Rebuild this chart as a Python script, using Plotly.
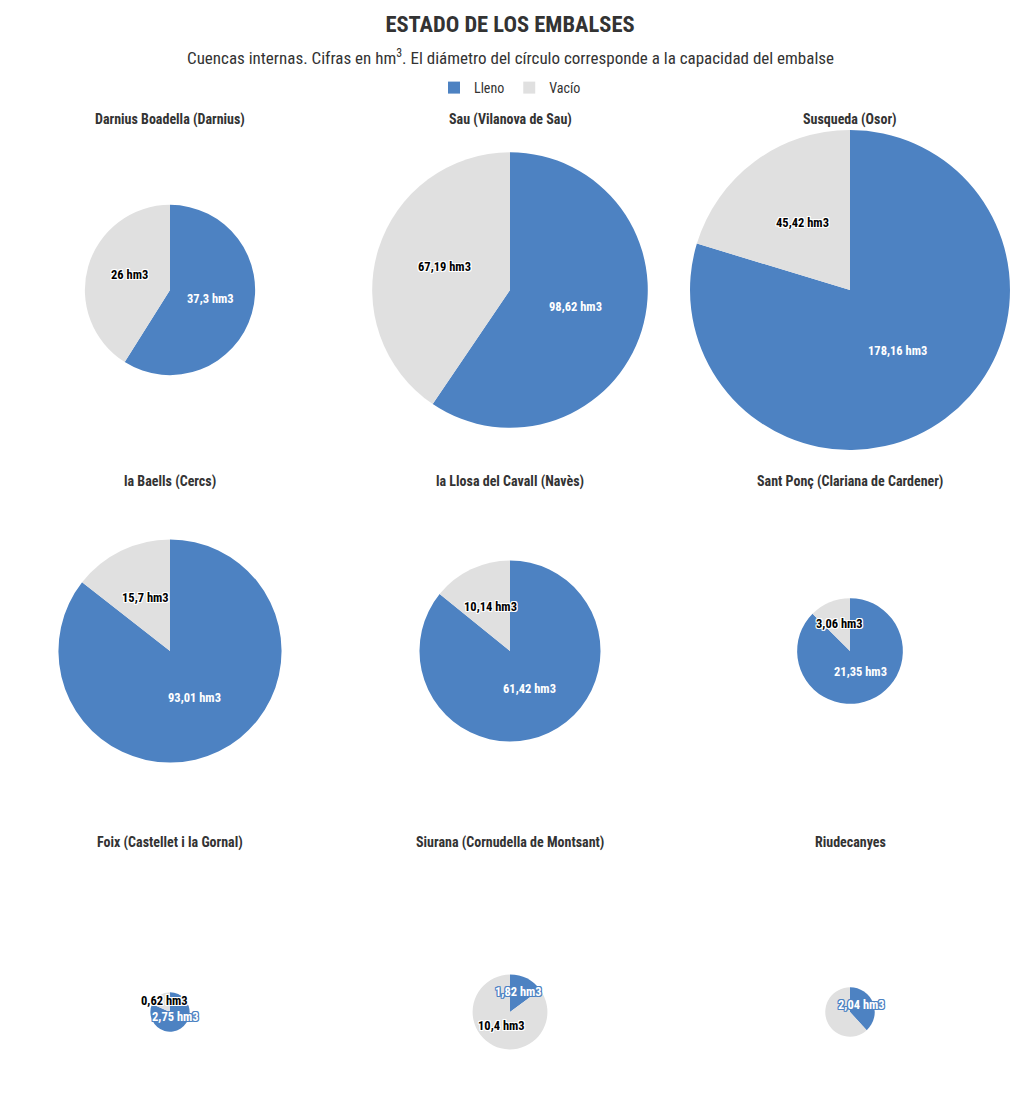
import math
import plotly.graph_objects as go

# ---- data ----
reservoirs = [
    "Darnius Boadella (Darnius)", "Sau (Vilanova de Sau)", "Susqueda (Osor)",
    "la Baells (Cercs)", "la Llosa del Cavall (Navès)", "Sant Ponç (Clariana de Cardener)",
    "Foix (Castellet i la Gornal)", "Siurana (Cornudella de Montsant)", "Riudecanyes",
]
lleno = [37.3, 98.62, 178.16, 93.01, 61.42, 21.35, 2.75, 1.82, 2.04]
vacio = [26, 67.19, 45.42, 15.7, 10.14, 3.06, 0.62, 10.4, 3.3]
series_names = ["Lleno", "Vacío"]
hidden_vacio_labels = ["Riudecanyes"]  # label hidden in the original (overlap)

title = "<b>ESTADO DE LOS EMBALSES</b>"
subtitle = "Cuencas internas. Cifras en hm<sup>3</sup>. El diámetro del círculo corresponde a la capacidad del embalse"

# ---- style ----
W, H = 1020, 1119
BLUE = "#4d82c2"
GRAY = "#e0e0e0"
FONT = "Roboto Condensed, Liberation Sans Narrow, Roboto, sans-serif"
col_centers = [170, 510, 850]
row_centers = [290, 651, 1012]
title_offset = 170          # px above pie centre
px_per_sqrt = 21.4          # diameter scale: area ~ capacity
label_dy = -3.5             # px vertical nudge of data labels


def fmt(v):
    return f"{v:g}".replace(".", ",") + " hm3"


def outline(color):
    return ", ".join(f"{dx}px {dy}px 0 {color}" for dx, dy in
                     [(1, 0), (-1, 0), (0, 1), (0, -1), (1, 1), (-1, -1), (1, -1), (-1, 1)])


fig = go.Figure()
annotations = []
for i, name in enumerate(reservoirs):
    cx = col_centers[i % 3]
    cy = row_centers[i // 3]
    total = lleno[i] + vacio[i]
    d = px_per_sqrt * math.sqrt(total)
    r = d / 2
    fig.add_trace(go.Pie(
        labels=series_names,
        values=[lleno[i], vacio[i]],
        marker=dict(colors=[BLUE, GRAY], line=dict(width=0)),
        sort=False, direction="clockwise", rotation=0,
        textinfo="none", hoverinfo="label+value",
        showlegend=(i == 0),
        domain=dict(x=[(cx - r) / W, (cx + r) / W],
                    y=[1 - (cy + r) / H, 1 - (cy - r) / H]),
    ))
    # subplot title
    annotations.append(dict(
        text=f"<b>{name}</b>", x=cx / W, y=1 - (cy - title_offset) / H,
        xref="paper", yref="paper", showarrow=False, xanchor="center", yanchor="middle",
        font=dict(family=FONT, size=14, color="#333333"),
    ))
    # data labels at half radius along the slice mid-angle
    start = 0.0
    for j, v in enumerate([lleno[i], vacio[i]]):
        frac = v / total
        mid = (start + frac / 2) * 2 * math.pi
        start += frac
        if j == 1 and name in hidden_vacio_labels:
            continue
        lx = cx + 0.5 * r * math.sin(mid)
        ly = cy - 0.5 * r * math.cos(mid) + label_dy
        col = "#ffffff" if j == 0 else "#000000"
        sh = outline(BLUE if j == 0 else "#ffffff")
        annotations.append(dict(
            text=f"<b>{fmt(v)}</b>", x=lx / W, y=1 - ly / H,
            xref="paper", yref="paper", showarrow=False, xanchor="center", yanchor="middle",
            font=dict(family=FONT, size=12.5, color=col, shadow=sh),
        ))

annotations.append(dict(
    text=subtitle, x=0.5, y=1 - 57 / H, xref="paper", yref="paper", showarrow=False,
    xanchor="center", yanchor="middle", font=dict(family=FONT, size=17, color="#333333"),
))

fig.update_layout(
    width=W, height=H,
    margin=dict(l=0, r=0, t=0, b=0),
    paper_bgcolor="white", plot_bgcolor="white",
    title=dict(text=title, x=0.5, xanchor="center", y=1 - 24 / H, yanchor="middle",
               yref="container", font=dict(family=FONT, size=22.5, color="#333333")),
    legend=dict(orientation="h", x=0.5, xanchor="center", y=1 - 88 / H, yanchor="middle",
                font=dict(family=FONT, size=14, color="#333333"), itemwidth=30,
                traceorder="normal"),
    annotations=annotations,
    font=dict(family=FONT),
)

fig.write_html("out.html")
